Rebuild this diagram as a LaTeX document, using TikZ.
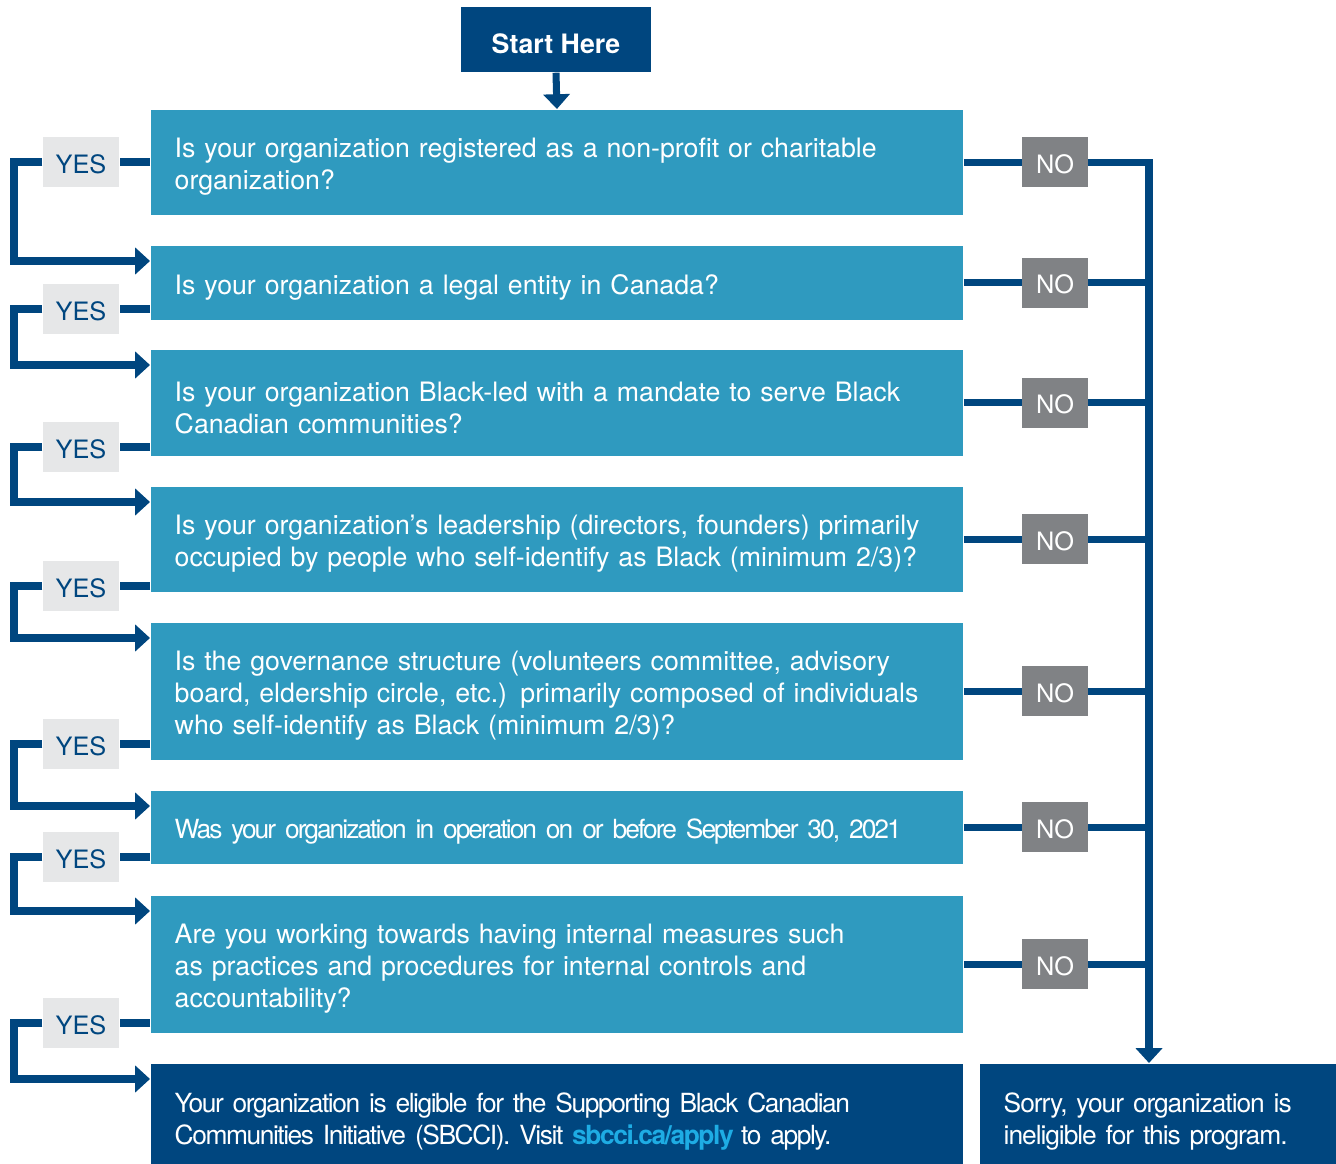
\documentclass[tikz,border=0pt]{standalone}
\usepackage{fontspec}
\setmainfont{TeX Gyre Heros}
\usepackage{tikz}
\usetikzlibrary{
  arrows.meta,
  positioning,
  calc
}
\usepackage{xcolor}
\definecolor{navyBlue}{RGB}{0,70,127}
\definecolor{tealBlue}{RGB}{47,154,191}
\definecolor{lightGray}{RGB}{230,231,232}
\definecolor{darkGray}{RGB}{128,130,133}
\definecolor{linkBlue}{RGB}{30,172,228}
\newcommand{\narrowtext}[1][-7.5]{\fontsize{7.5}{9.07}\selectfont\addfontfeature{LetterSpace=#1}}
\tikzset{
  qbox/.style={
    fill=tealBlue,
    text=white,
    anchor=north west,
    text width=7.64cm,
    inner xsep=0.24cm,
    inner ysep=0pt,
    align=left,
    execute at begin node={\rule{0pt}{8.3pt}},
    font=\fontsize{7.6}{9.07}\selectfont
  },
  endbox/.style={
    qbox,
    fill=navyBlue,
    execute at begin node={\rule{0pt}{9.5pt}}
  },
  yesbox/.style={
    fill=lightGray,
    text=navyBlue,
    minimum width=0.76cm,
    minimum height=0.5cm,
    inner sep=0pt,
    text height=6.3pt,
    text depth=0pt,
    font=\fontsize{7.2}{8}\selectfont
  },
  nobox/.style={
    yesbox,
    fill=darkGray,
    text=white,
    minimum width=0.65cm
  },
  flow/.style={
    draw=navyBlue,
    line width=2pt
  }
}

\begin{document}
\begin{tikzpicture}[
      x=0.01cm, y=-0.01cm,
      >={Triangle[length=4.2pt,width=7.4pt]}
      ]
      \useasboundingbox (0,0) rectangle (1336,1164);

      \coordinate (lbus) at (14,0);
      \coordinate (rbus) at (1149,0);
      \coordinate (nocol) at (1055,0);

      \node[fill=navyBlue, text=white, minimum width=1.9cm, minimum height=0.65cm,
        text height=8pt, text depth=0pt,
        font=\fontsize{7.6}{9}\selectfont\bfseries] (start) at (556,39.5) {Start Here};

      \foreach \n/\y/\h/\t in {
        1/109/105/{Is your organization registered as a non-profit or charitable\\organization?},
        2/245/74/{Is your organization a legal entity in Canada?},
        3/349/106/{Is your organization Black-led with a mandate to serve Black\\Canadian communities?},
        4/486/105/{Is your organization’s leadership (directors, founders) primarily\\occupied by people who self-identify as Black (minimum 2/3)?},
        5/622/137/{Is the governance structure (volunteers committee, advisory\\board, eldership circle, etc.) primarily composed of individuals\\who self-identify as Black (minimum 2/3)?},
        6/790/73/{\narrowtext Was your organization in operation on or before September 30, 2021},
        7/895/137/{Are you working towards having internal measures such\\as practices and procedures for internal controls and\\accountability?}}{
        \node[qbox, minimum height=\h*0.01cm] (q\n) at (150,\y) {\t};
      }

      \node[endbox, minimum height=1.01cm] (elig) at (150,1063)
        {\narrowtext[-5.5] Your organization is eligible for the Supporting Black Canadian\\
        Communities Initiative (SBCCI). Visit \textcolor{linkBlue}{\textbf{sbcci.ca/apply}} to apply.};
      \node[endbox, text width=3.09cm, minimum height=1.01cm] (sorry) at (979,1063)
        {\narrowtext[-4] Sorry, your organization is\\ineligible for this program.};

      \draw[flow, ->] (start.south) -- (q1.north);

      % yes branch on the left
      \foreach \i/\y/\j in {1/162/q2, 2/309/q3, 3/447/q4, 4/586/q5, 5/744/q6, 6/857/q7, 7/1023/elig}{
        \node[yesbox] (y\i) at (81,\y) {YES};
        \draw[flow] (q\i.west |- y\i) -- (y\i.east);
        \draw[flow, ->] (y\i.west) -- (y\i.west -| lbus) |- ($(\j.north west)+(0,16)$);
      }

      % no branch on the right
      \foreach \i in {1,...,7}{
        \node[nobox] (n\i) at (q\i.east -| nocol) {NO};
        \draw[flow] (q\i.east) -- (n\i.west);
      }
      \draw[flow, ->] (n1.east) -| (sorry.north -| rbus);
      \foreach \i in {2,...,7}{
        \draw[flow] (n\i.east) -- (n\i.east -| rbus);
      }
\end{tikzpicture}
\end{document}
